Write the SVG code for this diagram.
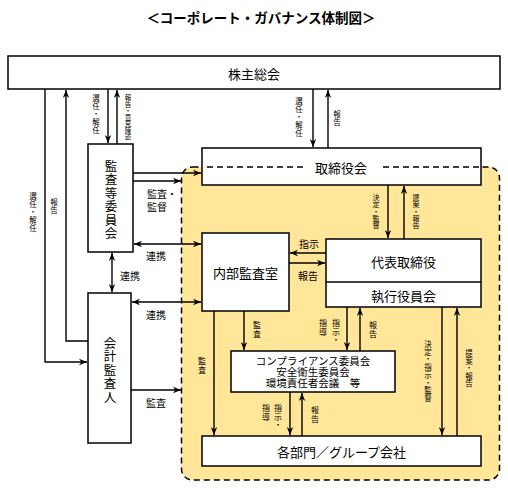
<svg xmlns="http://www.w3.org/2000/svg" width="508" height="489" viewBox="0 0 508 489">
<defs>
<marker id="arr" viewBox="0 0 10 10" refX="10" refY="5" markerWidth="8" markerHeight="8" markerUnits="userSpaceOnUse" orient="auto-start-reverse">
<path d="M0,1 L10,5 L0,9 L3,5 z" fill="#000"/>
</marker>
</defs>
<style>
text{font-family:"Noto Sans CJK JP","Noto Sans CJK SC",sans-serif;fill:#000;dominant-baseline:central;text-anchor:middle}
.box{fill:#fff;stroke:#000;stroke-width:1.5}
.big{font-size:13px}
.vb{font-size:12.5px}
.vl{font-size:7.5px}
.v2{font-size:8px}
.sm{font-size:10.5px}
.hl{font-size:10px}
.c{fill:none;stroke:#000;stroke-width:1.4}
.a{marker-end:url(#arr)}
.d{marker-start:url(#arr);marker-end:url(#arr)}
</style>
<rect width="508" height="489" fill="#fff"/>
<text x="261" y="17" style="font-size:13.5px;font-weight:bold">＜コーポレート・ガバナンス体制図＞</text>

<rect id="zone" x="181.5" y="167" width="318" height="313" rx="11" fill="#FFE699" stroke="#000" stroke-width="1.5" stroke-dasharray="6 4"/>

<g id="connectors">
<path class="c a" d="M45,89 V362 H87"/>
<path class="c a" d="M88,341 H66 V90"/>
<path class="c a" d="M108,89 V143"/>
<path class="c a" d="M117,144 V90"/>
<path class="c a" d="M133,173 H201"/>
<path class="c a" d="M133,181 H181"/>
<path class="c a" d="M313,89 V147"/>
<path class="c a" d="M328,148 V90"/>
<path class="c a" d="M388,185 V238"/>
<path class="c a" d="M404,239 V186"/>
<path class="c d" d="M134,244 H201"/>
<path class="c d" d="M112,253 V292"/>
<path class="c d" d="M132,302 H201"/>
<path class="c a" d="M131,390 H181"/>
<path class="c a" d="M326,253 H290"/>
<path class="c a" d="M289,263 H325"/>
<path class="c a" d="M214,311 V435"/>
<path class="c a" d="M244,311 V350"/>
<path class="c a" d="M347,307 V350"/>
<path class="c a" d="M360,351 V308"/>
<path class="c a" d="M290,392 V435"/>
<path class="c a" d="M302,436 V393"/>
<path class="c a" d="M442,307 V435"/>
<path class="c a" d="M457,436 V308"/>
</g>

<g id="labels">
<text class="vl"><tspan x="33" y="195">選</tspan><tspan x="33" y="203">任</tspan><tspan x="33" y="211">・</tspan><tspan x="33" y="219">解</tspan><tspan x="33" y="227">任</tspan></text>
<text class="vl"><tspan x="54" y="201">報</tspan><tspan x="54" y="209">告</tspan></text>
<text class="vl"><tspan x="96" y="97">選</tspan><tspan x="96" y="105">任</tspan><tspan x="96" y="113">・</tspan><tspan x="96" y="121">解</tspan><tspan x="96" y="129">任</tspan></text>
<text style="font-size:6.5px"><tspan x="128" y="97">報</tspan><tspan x="128" y="103.5">告</tspan><tspan x="128" y="110">・</tspan><tspan x="128" y="116.5">意</tspan><tspan x="128" y="123">見</tspan><tspan x="128" y="129.5">陳</tspan><tspan x="128" y="136">述</tspan></text>
<text class="vl"><tspan x="299" y="100">選</tspan><tspan x="299" y="108">任</tspan><tspan x="299" y="116">・</tspan><tspan x="299" y="124">解</tspan><tspan x="299" y="132">任</tspan></text>
<text class="vl"><tspan x="337" y="113">報</tspan><tspan x="337" y="121">告</tspan></text>
<text style="font-size:7px"><tspan x="376" y="197">決</tspan><tspan x="376" y="204">定</tspan><tspan x="376" y="211">・</tspan><tspan x="376" y="218">監</tspan><tspan x="376" y="225">督</tspan></text>
<text style="font-size:7px"><tspan x="416" y="197">提</tspan><tspan x="416" y="204">案</tspan><tspan x="416" y="211">・</tspan><tspan x="416" y="218">報</tspan><tspan x="416" y="225">告</tspan></text>
<text class="v2"><tspan x="202" y="360">監</tspan><tspan x="202" y="369">査</tspan></text>
<text class="v2"><tspan x="257" y="324">監</tspan><tspan x="257" y="333">査</tspan></text>
<text class="v2"><tspan x="336" y="322">指</tspan><tspan x="336" y="331">示</tspan><tspan x="336" y="339">・</tspan></text>
<text class="v2"><tspan x="323" y="322">指</tspan><tspan x="323" y="331">導</tspan></text>
<text class="v2"><tspan x="373" y="324">報</tspan><tspan x="373" y="333">告</tspan></text>
<text class="v2"><tspan x="278" y="407">指</tspan><tspan x="278" y="416">示</tspan><tspan x="278" y="424">・</tspan></text>
<text class="v2"><tspan x="266" y="407">指</tspan><tspan x="266" y="416">導</tspan></text>
<text class="v2"><tspan x="315" y="409">報</tspan><tspan x="315" y="418">告</tspan></text>
<text class="vl"><tspan x="428" y="343">決</tspan><tspan x="428" y="350.7">定</tspan><tspan x="428" y="358.4">・</tspan><tspan x="428" y="366.1">指</tspan><tspan x="428" y="373.8">示</tspan><tspan x="428" y="381.5">・</tspan><tspan x="428" y="389.2">監</tspan><tspan x="428" y="396.9">督</tspan></text>
<text class="vl"><tspan x="469" y="352">提</tspan><tspan x="469" y="359.5">案</tspan><tspan x="469" y="367">・</tspan><tspan x="469" y="374.5">報</tspan><tspan x="469" y="382">告</tspan></text>
<text class="hl" x="147" y="193" style="text-anchor:start">監査・</text>
<text class="hl" x="147" y="206" style="text-anchor:start">監督</text>
<text class="hl" x="156" y="255">連携</text>
<text class="hl" x="130" y="275">連携</text>
<text class="hl" x="156" y="314">連携</text>
<text class="hl" x="156" y="402">監査</text>
<text class="hl" x="309" y="243">指示</text>
<text class="hl" x="308" y="275">報告</text>
</g>

<g id="shareholders">
<rect class="box" x="8" y="56" width="492" height="33"/>
<text class="big" x="254" y="73">株主総会</text>
</g>
<g id="board">
<rect class="box" x="202" y="148" width="279" height="37"/>
<path d="M207,167 H303 M383,167 H480" stroke="#000" stroke-width="1.5" stroke-dasharray="6 4" fill="none"/>
<text class="big" x="341" y="167">取締役会</text>
</g>
<g id="audit-committee">
<rect class="box" x="88" y="144" width="45" height="108"/>
<text class="vb"><tspan x="111" y="165">監</tspan><tspan x="111" y="178.4">査</tspan><tspan x="111" y="191.8">等</tspan><tspan x="111" y="205.2">委</tspan><tspan x="111" y="218.6">員</tspan><tspan x="111" y="232">会</tspan></text>
</g>
<g id="accounting-auditor">
<rect class="box" x="88" y="293" width="43" height="150"/>
<text class="vb"><tspan x="110" y="342">会</tspan><tspan x="110" y="355.4">計</tspan><tspan x="110" y="368.8">監</tspan><tspan x="110" y="382.2">査</tspan><tspan x="110" y="395.6">人</tspan></text>
</g>
<g id="internal-audit">
<rect class="box" x="202" y="233" width="87" height="78"/>
<text class="big" x="245.5" y="272">内部監査室</text>
</g>
<g id="representative">
<rect class="box" x="326" y="239" width="155" height="68"/>
<line x1="326" y1="282" x2="481" y2="282" stroke="#000" stroke-width="1.5"/>
<text class="big" x="403.5" y="261">代表取締役</text>
<text class="big" x="403.5" y="295">執行役員会</text>
</g>
<g id="committees">
<rect class="box" x="231" y="351" width="164" height="41"/>
<text class="sm" x="313" y="360">コンプライアンス委員会</text>
<text class="sm" x="313" y="371">安全衛生委員会</text>
<text class="sm" x="313" y="382">環境責任者会議　等</text>
</g>
<g id="departments">
<rect class="box" x="202" y="436" width="279" height="30"/>
<text class="big" x="341.5" y="451">各部門／グループ会社</text>
</g>
</svg>
